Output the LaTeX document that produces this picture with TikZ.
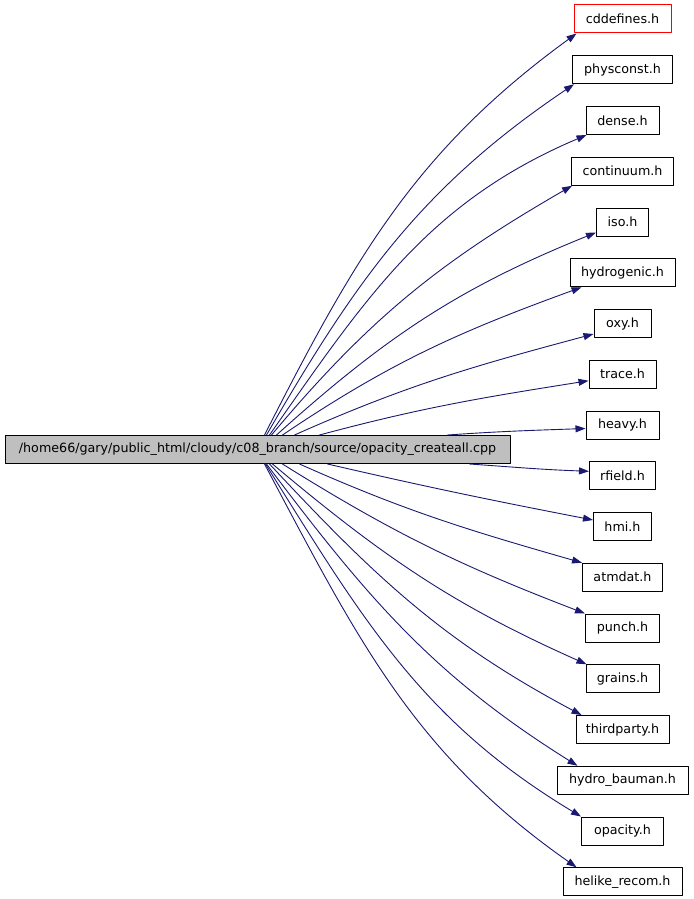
\documentclass[tikz,border=0pt]{standalone}
\usepackage{fontspec}
\setmainfont{DejaVu Sans}
\usetikzlibrary{arrows.meta}
\definecolor{edgeblue}{HTML}{191970}
\definecolor{mainfill}{HTML}{BFBFBF}
\tikzset{
  >={Triangle[length=10pt, width=7pt]},
  every picture/.style={line cap=round, line join=round},
  filebox/.style={draw=black, line width=1pt, minimum height=28pt, inner sep=0pt,
    font=\fontsize{12.7}{15}\selectfont},
  mainfile/.style={filebox, fill=mainfill},
  % header without its own documentation page
  nodoc/.style={filebox, draw=red},
  dep/.style={->, edgeblue, line width=0.9pt},
}

\begin{document}
\begin{tikzpicture}[x=1pt, y=1pt]
  \useasboundingbox (0,0) rectangle (693,-899);
  % the source file
  \node[mainfile, minimum width=505pt] (main) at (257.5,-449.5)
    {/home66/gary/public\_html/cloudy/c08\_branch/source/opacity\_createall.cpp};
  % included headers, one per row
  \node[nodoc, minimum width=97pt] (h1) at (622.5,-19) {cddefines.h};
  \foreach \i/\w/\txt in {2/100/physconst.h, 3/73/dense.h, 4/102/continuum.h,
      5/52/iso.h, 6/105/hydrogenic.h, 7/57/oxy.h, 8/67/trace.h, 9/73/heavy.h,
      10/66/rfield.h, 11/58/hmi.h, 12/80/atmdat.h, 13/74/punch.h, 14/73/grains.h,
      15/93/thirdparty.h, 16/131/hydro\_bauman.h, 17/82/opacity.h,
      18/119/helike\_recom.h}
    \node[filebox, minimum width=\w pt] (h\i) at (622.5,{-19-50.75*(\i-1)}) {\txt};
  % edges leaving the top of the source box
  \foreach \i/\sx/\out/\in/\ex/\ey in {1/260/63/216/3/0, 2/262/60/214/2/0,
      3/265/55/203/1/0, 4/267/50/210/1/0, 5/272/42/202/0/4, 6/278/34/200/12/0,
      7/290/24/195/0/4, 8/315/15/189/0/8, 9/443/4/182/0/11}
    \draw[dep] ([xshift=\sx]main.north west) to[out=\out, in=\in]
      ([shift={(\ex,\ey)}]h\i.south west);
  % edges leaving the bottom
  \foreach \i/\sx/\out/\in/\ex/\ey in {10/465/-4/178/0/-10, 11/323/-13/169/0/-8,
      12/295/-24/164/0/0, 13/278/-32/159/0/0, 14/268/-40/156/1/0,
      15/265/-47/152/6/0, 16/262/-53/148/21/0, 17/261/-58/149/0/0,
      18/260/-62/145/14/0}
    \draw[dep] ([xshift=\sx]main.south west) to[out=\out, in=\in]
      ([shift={(\ex,\ey)}]h\i.north west);
\end{tikzpicture}
\end{document}
